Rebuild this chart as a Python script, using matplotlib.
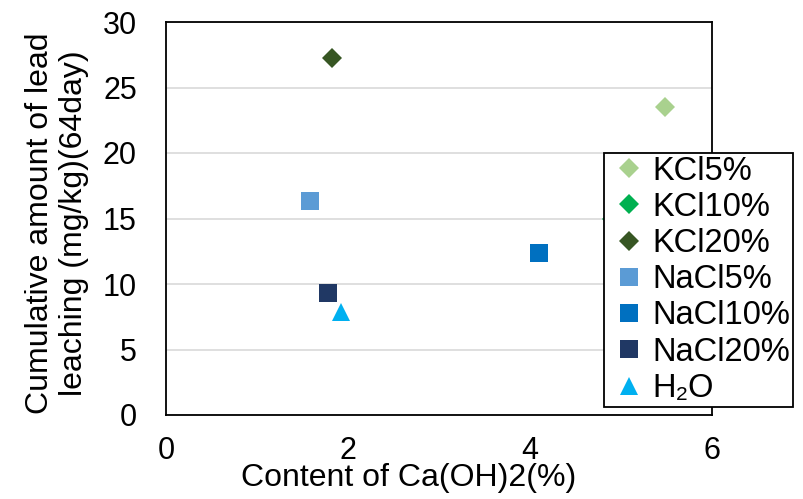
import matplotlib
matplotlib.use("Agg")
import matplotlib.pyplot as plt

plt.rcParams['font.family'] = ['Liberation Sans', 'DejaVu Sans']

# Series: label, Ca(OH)2 content (%), cumulative lead leaching (mg/kg)
labels = ["KCl5%", "KCl10%", "KCl20%", "NaCl5%", "NaCl10%", "NaCl20%", "H₂O"]
ca_oh2 = [5.48, 4.90, 1.82, 1.58, 4.10, 1.78, 1.92]
leaching = [23.5, 15.0, 27.25, 16.3, 12.4, 9.3, 7.9]

colors = ["#A9D18E", "#00B050", "#375623", "#5B9BD5", "#0070C0", "#203864", "#00B0F0"]
markers = ["D", "D", "D", "s", "s", "s", "^"]
sizes = [10.5, 10.5, 10.5, 13, 13, 13, 13]

x_ticks = [0, 2, 4, 6]
y_ticks = [0, 5, 10, 15, 20, 25, 30]

fig = plt.figure(figsize=(8.04, 4.99), dpi=100)
ax = fig.add_axes([166 / 804, 1 - 415 / 499, (712 - 166) / 804, (415 - 22) / 499])

for lab, x, y, c, m, s in zip(labels, ca_oh2, leaching, colors, markers, sizes):
    ax.plot([x], [y], linestyle="none", marker=m, markersize=s, color=c,
            markeredgewidth=0, label=lab, zorder=3)

ax.set_xlim(0, 6)
ax.set_ylim(0, 30)
ax.set_xticks(x_ticks)
ax.set_yticks(y_ticks)
ax.tick_params(axis="both", length=0, labelsize=22)
ax.tick_params(axis="y", pad=21)
ax.tick_params(axis="x", pad=15)
ax.grid(axis="y", color="#D9D9D9", linewidth=1.2, zorder=0)
ax.set_axisbelow(True)
for sp in ax.spines.values():
    sp.set_color("black")
    sp.set_linewidth(1.3)

fig.text(409 / 804, 1 - 486 / 499, "Content of Ca(OH)2(%)", fontsize=23,
         ha="center", va="baseline")
fig.text(57 / 804, 1 - 223 / 499, "Cumulative amount of lead\nleaching (mg/kg)(64day)",
         fontsize=23, rotation=90, ha="center", va="center",
         multialignment="center", linespacing=1.15)

leg = ax.legend(loc="upper left", bbox_to_anchor=(604 / 804, 1 - 153 / 499),
                bbox_transform=fig.transFigure, borderaxespad=0, fontsize=23.5,
                frameon=True, fancybox=False, edgecolor="black", framealpha=1,
                labelspacing=0.16, handletextpad=0.0, handlelength=1.4,
                borderpad=0.08)
leg.get_frame().set_linewidth(1.3)
leg.set_zorder(5)

fig.savefig("out.png", dpi=100)
